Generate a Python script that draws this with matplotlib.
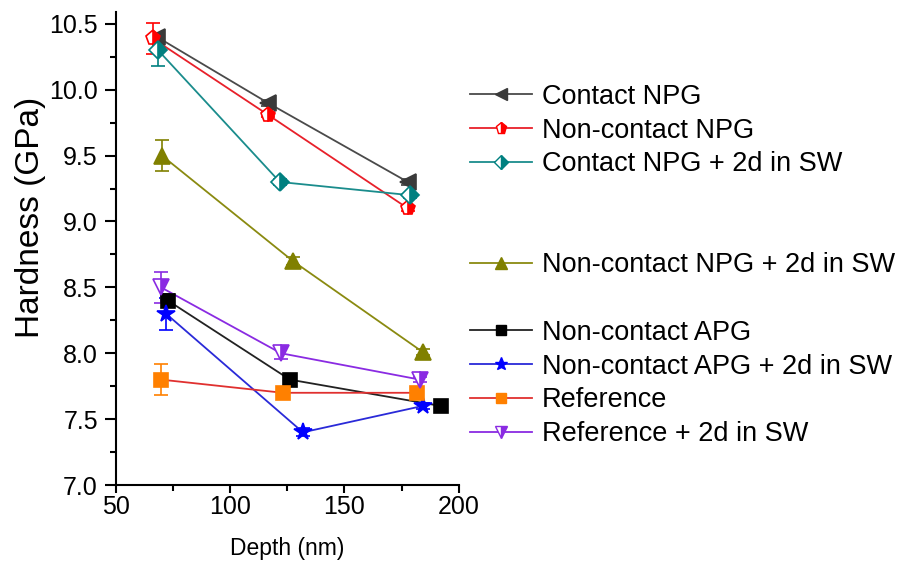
import matplotlib.pyplot as plt
from matplotlib.lines import Line2D

plt.rcParams['font.family'] = ['Liberation Sans', 'DejaVu Sans']

# data
labels = ['Contact NPG', 'Non-contact NPG', 'Contact NPG + 2d in SW',
          'Non-contact NPG + 2d in SW', 'Non-contact APG',
          'Non-contact APG + 2d in SW', 'Reference', 'Reference + 2d in SW']
depth = [
    [68, 116.5, 177.7],
    [66, 116.5, 177.7],
    [68.4, 121.7, 178.6],
    [70.1, 127.4, 184.2],
    [72.7, 126.1, 192.1],
    [71.9, 131.8, 184.2],
    [69.7, 123.0, 181.6],
    [69.7, 122.2, 183.0],
]
hardness = [
    [10.40, 9.90, 9.30],
    [10.39, 9.81, 9.10],
    [10.30, 9.30, 9.20],
    [9.50, 8.70, 8.01],
    [8.40, 7.80, 7.60],
    [8.30, 7.40, 7.60],
    [7.80, 7.70, 7.70],
    [8.50, 8.00, 7.80],
]
errors = [
    [0.02, 0.02, 0.02],
    [0.12, 0.02, 0.02],
    [0.12, 0.02, 0.02],
    [0.12, 0.03, 0.02],
    [0.05, 0.02, 0.02],
    [0.12, 0.03, 0.02],
    [0.12, 0.02, 0.02],
    [0.12, 0.04, 0.02],
]

line_colors = ['#4a4a4a', '#e8202a', '#1a8c8c', '#8a8a10', '#222222', '#2a2ad8', '#e0302f', '#8a2be2']
face_colors = ['#3a3a3a', '#ff0000', '#008080', '#808000', '#000000', '#0000ff', '#ff8000', '#8a2be2']
markers = ['<', 'p', 'D', '^', 's', '*', 's', 'v']
fills = ['full', 'right', 'right', 'full', 'full', 'full', 'full', 'right']
sizes = [11, 11, 9, 11, 10, 13, 10, 11]

fig = plt.figure(figsize=(9.03, 5.63), dpi=100)
ax = fig.add_axes([0.1285, 0.1385, 0.3795, 0.8402])

handles = []
for i in range(len(labels)):
    ax.errorbar(depth[i], hardness[i], yerr=errors[i], color=line_colors[i],
                ecolor=face_colors[i], elinewidth=1.2, capsize=5, capthick=1.2,
                lw=1.3, zorder=2, fmt='none')
    ax.plot(depth[i], hardness[i], color=line_colors[i], lw=1.3, zorder=3)
    ax.plot(depth[i], hardness[i], ls='none', marker=markers[i], ms=sizes[i],
            fillstyle=fills[i], markerfacecolor=face_colors[i],
            markerfacecoloralt='white', markeredgecolor=face_colors[i],
            markeredgewidth=1.2, zorder=4)
    handles.append(Line2D([], [], color=line_colors[i], lw=1.3, marker=markers[i],
                          ms=sizes[i] * 0.75, fillstyle=fills[i],
                          markerfacecolor=face_colors[i], markerfacecoloralt='white',
                          markeredgecolor=face_colors[i]))

blank = Line2D([], [], color='none')
leg_handles = handles[:3] + [blank, blank] + [handles[3], blank] + handles[4:]
leg_labels = labels[:3] + [' ', ' '] + [labels[3], ' '] + labels[4:]
fig.legend(leg_handles, leg_labels, loc='upper left', bbox_to_anchor=(0.5205, 0.851),
           frameon=False, fontsize=19.5, handlelength=2.3, handletextpad=0.35,
           labelspacing=0.285, borderpad=0, borderaxespad=0)

ax.set_xlim(50, 200)
ax.set_ylim(7.0, 10.59)
ax.set_xticks([50, 100, 150, 200])
ax.set_xticks([75, 125, 175], minor=True)
ax.set_yticks([7.0, 7.5, 8.0, 8.5, 9.0, 9.5, 10.0, 10.5])
ax.set_yticks([7.25, 7.75, 8.25, 8.75, 9.25, 9.75, 10.25], minor=True)
ax.set_yticklabels(['7.0', '7.5', '8.0', '8.5', '9.0', '9.5', '10.0', '10.5'])
ax.spines['top'].set_visible(False)
ax.spines['right'].set_visible(False)
ax.spines['left'].set_linewidth(1.5)
ax.spines['bottom'].set_linewidth(1.5)
ax.tick_params(axis='y', which='major', direction='out', length=8, width=1.5, labelsize=18, pad=5)
ax.tick_params(axis='y', which='minor', direction='out', length=4.5, width=1.5)
ax.tick_params(axis='x', which='major', direction='out', length=6, width=1.5, labelsize=18, pad=1)
ax.tick_params(axis='x', which='minor', direction='out', length=4, width=1.5)
ax.set_xlabel('Depth (nm)', fontsize=16.5)
ax.xaxis.set_label_coords(0.5, -0.11)
ax.set_ylabel('Hardness (GPa)', fontsize=24)
ax.yaxis.set_label_coords(-0.205, 0.565)

fig.savefig('out.png', dpi=100)
